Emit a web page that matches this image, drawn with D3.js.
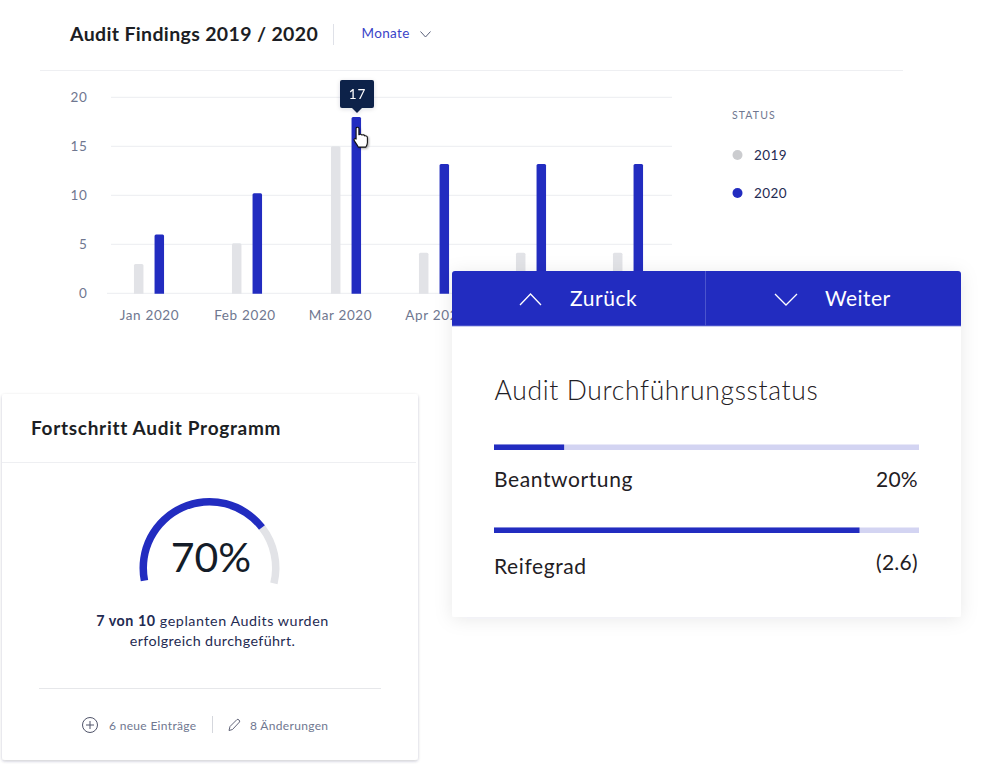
<!DOCTYPE html>
<html><head><meta charset="utf-8">
<script src="https://cdn.jsdelivr.net/npm/d3@7"></script>
<style>
html,body{margin:0;padding:0;background:#fff;overflow:hidden}
svg{display:block}
text{font-family:Lato,"Open Sans",sans-serif}
</style></head><body><div id="c"></div>
<script>
const months=["Jan 2020","Feb 2020","Mar 2020","Apr 2020","May 2020","Jun 2020"];
const visibleMonths=["Jan 2020","Feb 2020","Mar 2020","Apr 2020"];
const values2019=[3,5.1,15,4.15,4.15,4.15];
const values2020=[6,10.2,18,13.2,13.2,13.2];
const yTicks=[0,5,10,15,20];
const legendYears=["2019","2020"];
const tooltipMonth="Mar 2020";
const tooltipLabel="17";
const progressNames=["Beantwortung","Reifegrad"];
const progressLabels=["20%","(2.6)"];
const progressDrawn=[16.5,86];
const gaugeLabel="70%";
const gaugeDrawn=75;

const BLUE="#222cc0",GRAY="#e2e3e7",INK="#1c1e24",SLATE="#6f7790",NAVY="#1f2b52";
const svg=d3.select("#c").append("svg").attr("width",982).attr("height",766);
const defs=svg.append("defs");
function shadow(id,dy,blur,op){
  const f=defs.append("filter").attr("id",id).attr("x","-15%").attr("y","-15%").attr("width","130%").attr("height","130%");
  f.append("feDropShadow").attr("dx",0).attr("dy",dy).attr("stdDeviation",blur).attr("flood-color","#1a2040").attr("flood-opacity",op);
}
shadow("cardS",1.2,1.8,0.24);
shadow("panelS",2,9,0.09);
shadow("tipS",1,2,0.15);

function label(g,x,y,t,size,fill,weight,anchor,ls){
  return g.append("text").attr("x",x).attr("y",y).text(t).attr("font-size",size).attr("fill",fill)
    .attr("font-weight",weight||400).attr("text-anchor",anchor||"start").attr("letter-spacing",ls||0);
}

/* header */
const head=svg.append("g");
label(head,70,41,"Audit Findings 2019 / 2020",19.5,INK,700,"start",0.35);
head.append("line").attr("x1",333.5).attr("x2",333.5).attr("y1",24).attr("y2",45).attr("stroke","#dfe1e8");
label(head,361.5,38,"Monate",13.5,"#3a43c8",400,"start",0.35);
head.append("path").attr("d",d3.line()([[420.5,31.5],[425.5,37],[430.5,31.5]])).attr("fill","none").attr("stroke","#59607a").attr("stroke-width",1);
head.append("line").attr("x1",40).attr("x2",903).attr("y1",70.5).attr("y2",70.5).attr("stroke","#eeeff2");

/* chart */
const y=d3.scaleLinear().domain([0,20]).range([293.3,97.3]);
const xLabel=d3.scalePoint().domain(months).range([149.5,627]);
const xBar=d3.scaleOrdinal().domain(months).range([149,247,346,434,531,628]);
const barW=9.5,gap=10.3;
const chart=svg.append("g");
const yAxis=d3.axisLeft(y).tickValues(yTicks).tickSize(0).tickPadding(0);
const gy=chart.append("g").attr("transform","translate(87.5,0)").call(yAxis);
gy.select(".domain").remove();
gy.selectAll("text").attr("font-size",13.5).attr("fill",SLATE).attr("font-family","Lato").attr("letter-spacing",0.7);
chart.selectAll("line.grid").data(yTicks).join("line").attr("class","grid")
  .attr("x1",d=>d===0?107:111).attr("x2",672).attr("y1",d=>y(d)).attr("y2",d=>y(d)).attr("stroke","#ecedf0").attr("stroke-width",1);
const gx=chart.append("g").attr("transform","translate(-0.5,311)").call(d3.axisBottom(xLabel).tickValues(visibleMonths).tickSize(0).tickPadding(0));
gx.select(".domain").remove();
gx.selectAll("text").attr("font-size",13.5).attr("fill",SLATE).attr("font-family","Lato").attr("letter-spacing",0.65).attr("dy","0.7em");

function bars(vals,dx,fill){
  chart.selectAll(null).data(vals).join("path").attr("fill",fill).attr("d",(v,i)=>{
    const x0=xBar(months[i])+dx-barW/2,t=y(v),b=y(0)+0.5,r=1.5;
    return `M${x0},${b}V${t+r}Q${x0},${t} ${x0+r},${t}H${x0+barW-r}Q${x0+barW},${t} ${x0+barW},${t+r}V${b}Z`;
  });
}
bars(values2019,-gap,GRAY);
bars(values2020,gap,BLUE);

/* legend */
const leg=svg.append("g");
label(leg,732,119,"STATUS",10.5,SLATE,400,"start",1.1);
legendYears.forEach((t,i)=>{
  const cy=155+i*38;
  leg.append("circle").attr("cx",737.5).attr("cy",cy).attr("r",5).attr("fill",i?BLUE:"#cbcccf");
  label(leg,754,cy+4.7,t,13.5,NAVY,400,"start",0.45);
});

/* tooltip */
const tipX=xBar(tooltipMonth)+gap+0.7;
const tip=svg.append("g").attr("filter","url(#tipS)");
tip.append("rect").attr("x",tipX-17).attr("y",80).attr("width",34).attr("height",28).attr("rx",2).attr("fill","#0e2148");
tip.append("path").attr("d",d3.line()([[tipX-5,108],[tipX,113],[tipX+5,108]])).attr("fill","#0e2148");
label(tip,tipX+0.5,98.5,tooltipLabel,13.5,"#fff",400,"middle",0.9);

/* hand cursor */
svg.append("path").attr("transform","translate(353.5,126.5)")
  .attr("d","M2.6,2 C2.6,0.3 5.4,0.3 5.4,2 L5.4,8.2 C6.6,7.4 8,7.6 8.4,8.6 C9.6,8 10.9,8.4 11.2,9.4 C12.6,9 13.9,9.8 13.9,11.2 L13.9,16 C13.9,18 13,19.4 12.4,20.6 L4.8,20.6 C4.2,18.8 2.4,16.8 0.9,14.4 C-0.2,12.6 1.4,11.2 2.6,12.6 Z")
  .attr("fill","#fff").attr("stroke","#111").attr("stroke-width",1.1).attr("stroke-linejoin","round")
  .style("filter","drop-shadow(1px 1px 1px rgba(0,0,0,.35))");

/* left card */
const card=svg.append("g");
card.append("rect").attr("x",2).attr("y",394).attr("width",416).attr("height",366).attr("rx",3).attr("fill","#fff").attr("filter","url(#cardS)");
label(card,31,434.5,"Fortschritt Audit Programm",19,INK,700,"start",0.7);
card.append("line").attr("x1",2).attr("x2",416).attr("y1",462.5).attr("y2",462.5).attr("stroke","#eeeff2");
const gaugeAngle=d3.scaleLinear().domain([0,100]).range([-101*Math.PI/180,103.5*Math.PI/180]);
const arc=d3.arc().innerRadius(62.5).outerRadius(70);
const gg=card.append("g").attr("transform","translate(209.5,568)");
gg.append("path").attr("d",arc({startAngle:gaugeAngle(gaugeDrawn),endAngle:gaugeAngle(100)})).attr("fill",GRAY);
gg.append("path").attr("d",arc({startAngle:gaugeAngle(0),endAngle:gaugeAngle(gaugeDrawn)})).attr("fill",BLUE);
label(card,211,572,gaugeLabel,41,"#141c28",400,"middle",0);
const line1=label(card,212.5,626,"",14.3,NAVY,400,"middle",0.55);
line1.append("tspan").attr("font-weight",700).text("7 von 10");
line1.append("tspan").text(" geplanten Audits wurden");
label(card,212.5,646,"erfolgreich durchgeführt.",14.3,NAVY,400,"middle",0.38);
card.append("line").attr("x1",39).attr("x2",381).attr("y1",688.5).attr("y2",688.5).attr("stroke","#e6e7ea");
card.append("circle").attr("cx",90).attr("cy",725).attr("r",7.5).attr("fill","none").attr("stroke","#50546a").attr("stroke-width",1);
card.append("path").attr("d","M86,725H94M90,721V729").attr("stroke","#50546a").attr("stroke-width",1);
label(card,109,729.5,"6 neue Einträge",12,SLATE,400,"start",0.32);
card.append("line").attr("x1",212.5).attr("x2",212.5).attr("y1",716).attr("y2",733).attr("stroke","#d5d7dd");
card.append("path").attr("d","M229,730.5L230,726.5L237,719.5C238,718.5 240.5,721 239.5,722L232.5,729.5Z").attr("fill","none").attr("stroke","#50546a").attr("stroke-width",0.9);
label(card,250,729.5,"8 Änderungen",12,SLATE,400,"start",0.33);

/* right panel */
const panel=svg.append("g");
panel.append("rect").attr("x",452).attr("y",271).attr("width",509).attr("height",346).attr("rx",3).attr("fill","#fff").attr("filter","url(#panelS)");
panel.append("path").attr("d","M452,326V274Q452,271 455,271H958Q961,271 961,274V326Z").attr("fill",BLUE);
panel.append("line").attr("x1",452).attr("x2",961).attr("y1",326).attr("y2",326).attr("stroke","#7f85d8").attr("stroke-width",0.8);
panel.append("line").attr("x1",705.5).attr("x2",705.5).attr("y1",271).attr("y2",326).attr("stroke","#4b54cd").attr("stroke-width",1);
panel.append("path").attr("d",d3.line()([[520,305],[530.5,294],[541,305]])).attr("fill","none").attr("stroke","#fff").attr("stroke-width",1.3);
panel.append("path").attr("d",d3.line()([[775,294],[786,305],[797,294]])).attr("fill","none").attr("stroke","#fff").attr("stroke-width",1.3);
label(panel,570,306,"Zurück",21,"#fff",400,"start",0.55);
label(panel,825,306,"Weiter",21,"#fff",400,"start",0.45);
label(panel,494.5,400,"Audit Durchführungsstatus",26.5,"#1f2024",300,"start",0.65);
const xProg=d3.scaleLinear().domain([0,100]).range([494,919]);
const trackY=[444.5,527.5],nameY=[487,574],valY=[487,570];
progressNames.forEach((n,i)=>{
  panel.append("rect").attr("x",xProg(0)).attr("y",trackY[i]).attr("width",xProg(100)-xProg(0)).attr("height",5.5).attr("fill","#d3d4f2");
  panel.append("rect").attr("x",xProg(0)).attr("y",trackY[i]).attr("width",xProg(progressDrawn[i])-xProg(0)).attr("height",5.5).attr("fill",BLUE);
  label(panel,494,nameY[i],n,21,"#1f2024",400,"start",0.6);
  label(panel,918,valY[i],progressLabels[i],21,"#1f2024",400,"end",0.3);
});
</script></body></html>
